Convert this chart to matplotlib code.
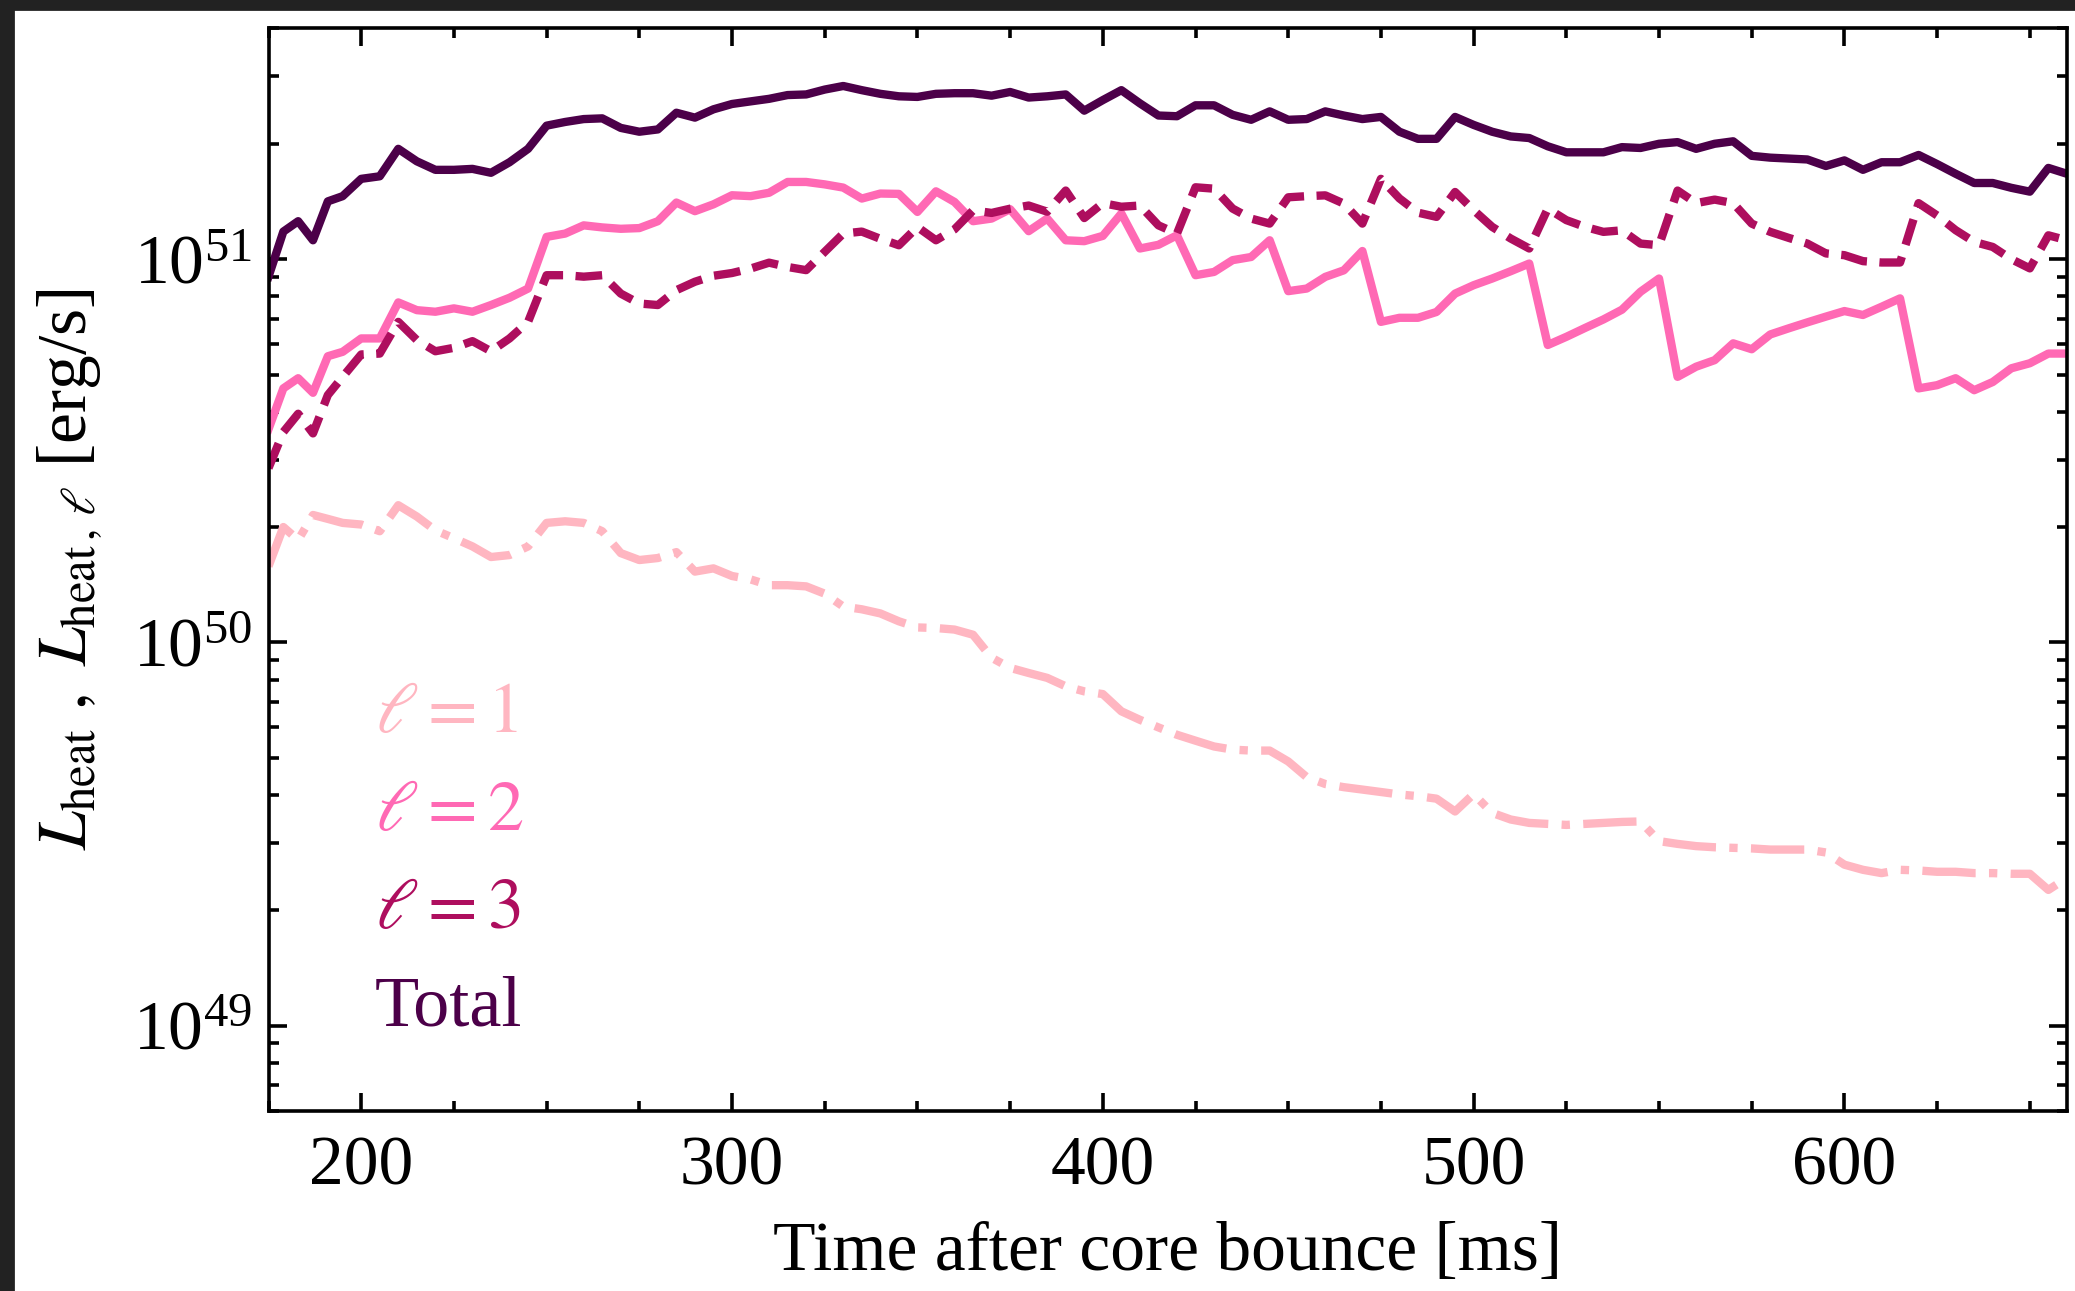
import matplotlib
matplotlib.use("Agg")
import matplotlib.pyplot as plt
from matplotlib.patches import Rectangle
from matplotlib.ticker import MultipleLocator, LogLocator

plt.rcParams['font.family'] = ['Liberation Serif', 'DejaVu Serif']
plt.rcParams['mathtext.fontset'] = 'stix'
plt.rcParams['font.size'] = 25

# time after bounce [ms]
t_ms = [175, 179, 183, 187, 191, 195] + list(range(200, 665, 5))

# heating luminosities in units of 1e50 erg/s
l1 = [1.58, 2.0, 1.85, 2.15, 2.1, 2.05,
      2.03, 1.95, 2.28, 2.13, 1.96, 1.87, 1.78, 1.67, 1.69, 1.78,
      2.05, 2.07, 2.05, 1.95, 1.71, 1.64, 1.66, 1.72, 1.53, 1.56,
      1.49, 1.46, 1.41, 1.41, 1.40, 1.34, 1.24, 1.22, 1.19, 1.135,
      1.094, 1.09, 1.08, 1.047, 0.912, 0.858, 0.832, 0.808, 0.768, 0.745,
      0.733, 0.661, 0.628, 0.600, 0.574, 0.554, 0.535, 0.525, 0.522, 0.522,
      0.489, 0.445, 0.427, 0.419, 0.413, 0.407, 0.401, 0.397, 0.391, 0.362,
      0.402, 0.359, 0.345, 0.338, 0.336, 0.334, 0.336, 0.338, 0.340, 0.341,
      0.303, 0.298, 0.294, 0.292, 0.291, 0.290, 0.288, 0.288, 0.288, 0.283,
      0.263, 0.255, 0.250, 0.255, 0.254, 0.252, 0.252, 0.250, 0.250, 0.249,
      0.249, 0.226, 0.243]

l2 = [3.6, 4.6, 4.89, 4.48, 5.58, 5.73,
      6.21, 6.21, 7.71, 7.36, 7.29, 7.44, 7.29, 7.59, 7.93, 8.38,
      11.43, 11.66, 12.25, 12.1, 12.0, 12.05, 12.56, 14.05, 13.34, 13.9,
      14.68, 14.6, 14.9, 15.9, 15.9, 15.67, 15.37, 14.39, 14.83, 14.8,
      13.28, 15.03, 14.1, 12.56, 12.76, 13.5, 11.83, 12.76, 11.2, 11.14,
      11.5, 13.15, 10.66, 10.9, 11.54, 9.08, 9.26, 9.94, 10.13, 11.2,
      8.25, 8.38, 8.99, 9.35, 10.5, 6.86, 7.03, 7.03, 7.28, 8.13,
      8.55, 8.9, 9.3, 9.74, 5.97, 6.27, 6.61, 6.96, 7.38, 8.22,
      8.9, 4.93, 5.24, 5.45, 6.03, 5.82, 6.36, 6.6, 6.84, 7.08,
      7.32, 7.15, 7.51, 7.9, 4.6, 4.69, 4.89, 4.55, 4.78, 5.19,
      5.35, 5.67, 5.67]

l3 = [2.85, 3.54, 3.95, 3.51, 4.42, 4.93,
      5.64, 5.67, 6.86, 6.15, 5.75, 5.87, 6.11, 5.75, 6.21, 6.86,
      9.08, 9.08, 9.0, 9.08, 8.13, 7.66, 7.59, 8.3, 8.73, 9.05,
      9.2, 9.45, 9.79, 9.54, 9.36, 10.45, 11.66, 11.8, 11.3, 10.87,
      12.13, 11.2, 11.96, 13.4, 13.2, 13.54, 13.8, 13.3, 15.1, 12.8,
      14.0, 13.7, 13.8, 12.25, 11.66, 15.4, 15.27, 13.55, 12.76, 12.38,
      14.5, 14.6, 14.67, 13.96, 12.38, 16.2, 14.4, 13.22, 12.89, 14.97,
      13.42, 12.14, 11.32, 10.66, 13.55, 12.64, 12.14, 11.78, 11.89, 10.98,
      10.87, 15.1, 14.0, 14.3, 14.0, 12.38, 11.78, 11.36, 10.98, 10.35,
      10.24, 9.88, 9.8, 9.8, 14.0, 13.0, 11.9, 11.09, 10.76, 10.0,
      9.46, 11.54, 11.2]

total = [9.0, 11.8, 12.56, 11.2, 14.15, 14.6,
         16.2, 16.45, 19.4, 18.0, 17.1, 17.1, 17.2, 16.8, 17.9, 19.4,
         22.3, 22.8, 23.2, 23.3, 22.0, 21.5, 21.8, 24.1, 23.4, 24.6,
         25.4, 25.8, 26.2, 26.8, 26.9, 27.7, 28.3, 27.6, 27.0, 26.6,
         26.5, 27.0, 27.1, 27.1, 26.7, 27.3, 26.4, 26.6, 26.9, 24.4,
         26.0, 27.6, 25.5, 23.7, 23.6, 25.2, 25.2, 23.8, 23.1, 24.3,
         23.1, 23.2, 24.3, 23.7, 23.2, 23.5, 21.5, 20.6, 20.6, 23.5,
         22.4, 21.5, 20.9, 20.7, 19.7, 19.0, 19.0, 19.0, 19.6, 19.5,
         20.0, 20.2, 19.4, 20.0, 20.3, 18.6, 18.4, 18.3, 18.2, 17.5,
         18.1, 17.1, 17.9, 17.9, 18.7, 17.7, 16.7, 15.8, 15.8, 15.35,
         15.0, 17.3, 16.7]

labels = [r'$\ell = 1$', r'$\ell = 2$', r'$\ell = 3$', 'Total']
colors = ['#ffb6c1', '#ff69b4', '#ae0e5e', '#4c0049']
styles = ['-.', '-', (0, (3.2, 1.5)), '-']
series = [l1, l2, l3, total]

fig = plt.figure(figsize=(10.375, 6.455), dpi=200)
ax = fig.add_axes([0.1294, 0.1397, 0.8667, 0.8383])

handles = []
for vals, c, ls, lab in zip(series, colors, styles, labels):
    h, = ax.plot(t_ms, [v * 1e50 for v in vals], color=c, ls=ls, lw=3.0, label=lab)
    handles.append(h)

ax.set_yscale('log')
ax.set_xlim(175, 660)
ax.set_ylim(6e48, 4e51)

ax.xaxis.set_major_locator(MultipleLocator(100))
ax.xaxis.set_minor_locator(MultipleLocator(25))
ax.yaxis.set_major_locator(LogLocator(base=10))
ax.yaxis.set_minor_locator(LogLocator(base=10, subs=range(2, 10)))

ax.tick_params(which='both', direction='in', top=True, right=True, width=1.3)
ax.tick_params(which='major', length=6.5)
ax.tick_params(which='minor', length=3.6)
ax.tick_params(axis='x', pad=9)
ax.tick_params(axis='y', pad=6)
for sp in ax.spines.values():
    sp.set_linewidth(1.3)

ax.set_xlabel('Time after core bounce [ms]', labelpad=8)
ax.set_ylabel(r'$L_{\rm heat}\ ,\ L_{{\rm heat}\,,\,\ell}$ [erg/s]', labelpad=10)

ax.legend(handles=handles, loc='upper left', bbox_to_anchor=(0.059, 0.397),
          frameon=False, handlelength=0, handletextpad=0, borderpad=0,
          borderaxespad=0, labelspacing=0.45, labelcolor='linecolor', fontsize=26)

# dark border along top and left edges
fig.patches.append(Rectangle((0, 1 - 9 / 1291), 1, 9 / 1291, transform=fig.transFigure,
                             color='#222222', zorder=10))
fig.patches.append(Rectangle((0, 0), 12.5 / 2075, 1, transform=fig.transFigure,
                             color='#222222', zorder=10))

fig.savefig('out.png', dpi=200)
